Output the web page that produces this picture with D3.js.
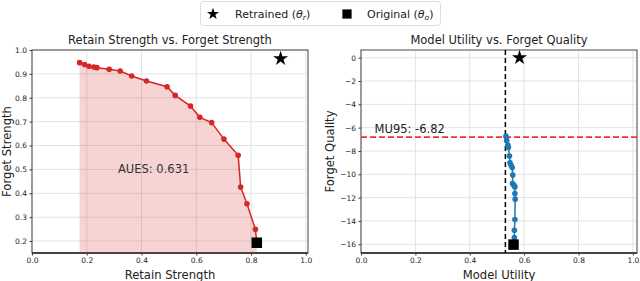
<!DOCTYPE html>
<html>
<head>
<meta charset="utf-8">
<script src="https://cdn.jsdelivr.net/npm/d3@7"></script>
<style>
  body { margin: 0; background: #fff; }
  svg { font-family: "DejaVu Sans", sans-serif; }
</style>
</head>
<body>
<div id="chart"></div>
<script>
// Left panel: retain strength vs forget strength
const retainStrength = [0.174, 0.192, 0.208, 0.226, 0.237, 0.282, 0.322, 0.364, 0.418, 0.493,
  0.523, 0.579, 0.613, 0.656, 0.701, 0.753, 0.762, 0.785, 0.816, 0.821];
const forgetStrength = [0.947, 0.939, 0.932, 0.929, 0.926, 0.919, 0.912, 0.891, 0.870, 0.846,
  0.810, 0.765, 0.718, 0.696, 0.627, 0.559, 0.426, 0.356, 0.249, 0.193];
const retrainedLeft = [0.908, 0.964];
const originalLeft = [0.821, 0.193];
const auesLabel = "AUES: 0.631";

// Right panel: model utility vs forget quality
const modelUtility = [0.533, 0.536, 0.540, 0.542, 0.546, 0.548, 0.552, 0.556, 0.558, 0.557,
  0.562, 0.566, 0.566, 0.567, 0.566, 0.564, 0.564, 0.561, 0.561];
const forgetQuality = [-6.73, -7.07, -7.50, -7.70, -8.44, -9.02, -9.22, -9.42, -10.07, -10.79,
  -10.93, -11.08, -11.65, -12.13, -13.88, -14.80, -15.43, -15.80, -16.03];
const retrainedRight = [0.583, 0.0];
const originalRight = [0.561, -16.03];
const muThresholdX = 0.531;
const mu95 = -6.82;

const leftXTicks = [0, 0.2, 0.4, 0.6, 0.8, 1.0];
const leftYTicks = [0.2, 0.3, 0.4, 0.5, 0.6, 0.7, 0.8, 0.9, 1.0];
const rightXTicks = [0, 0.2, 0.4, 0.6, 0.8, 1.0];
const rightYTicks = [0, -2, -4, -6, -8, -10, -12, -14, -16];

const width = 640, height = 281;
const svg = d3.select("#chart").append("svg")
  .attr("width", width).attr("height", height);

const red = "#d62728", blue = "#1f77b4";
const star = d3.symbol().type(d3.symbolStar).size(70);
const square = d3.symbol().type(d3.symbolSquare).size(110);

function panel(opts) {
  const x = d3.scaleLinear().domain(opts.xDomain).range([opts.left, opts.right]);
  const y = d3.scaleLinear().domain(opts.yDomain).range([opts.bottom, opts.top]);
  const g = svg.append("g");

  // grid
  g.selectAll(".gx").data(opts.xTicks).enter().append("line")
    .attr("x1", d => x(d)).attr("x2", d => x(d))
    .attr("y1", opts.top).attr("y2", opts.bottom)
    .attr("stroke", "#e3e3e3").attr("stroke-width", 1);
  g.selectAll(".gy").data(opts.yTicks).enter().append("line")
    .attr("x1", opts.left).attr("x2", opts.right)
    .attr("y1", d => y(d)).attr("y2", d => y(d))
    .attr("stroke", "#e3e3e3").attr("stroke-width", 1);

  // axes
  const xAxis = g.append("g").attr("transform", `translate(0,${opts.bottom})`)
    .call(d3.axisBottom(x).tickValues(opts.xTicks).tickFormat(d3.format(".1f")).tickSize(2.5).tickPadding(2.5));
  const yAxis = g.append("g").attr("transform", `translate(${opts.left},0)`)
    .call(d3.axisLeft(y).tickValues(opts.yTicks).tickFormat(opts.yFormat).tickSize(2.5).tickPadding(2.5));
  [xAxis, yAxis].forEach(a => {
    a.select(".domain").remove();
    a.selectAll("text").attr("font-size", 7.5).attr("fill", "#222")
      .attr("font-family", "DejaVu Sans");
    a.selectAll("line").attr("stroke", "#333");
  });

  g.append("rect")
    .attr("x", opts.left).attr("y", opts.top)
    .attr("width", opts.right - opts.left).attr("height", opts.bottom - opts.top)
    .attr("fill", "none").attr("stroke", "#444").attr("stroke-width", 1);
  g.append("line")
    .attr("x1", opts.left).attr("x2", opts.right)
    .attr("y1", opts.bottom).attr("y2", opts.bottom)
    .attr("stroke", "#444").attr("stroke-width", 2);

  // labels
  const cx = (opts.left + opts.right) / 2;
  g.append("text").attr("x", cx).attr("y", 44).attr("text-anchor", "middle")
    .attr("font-size", 11.5).attr("fill", "#222").text(opts.title);
  g.append("text").attr("x", cx).attr("y", 279).attr("text-anchor", "middle")
    .attr("font-size", 11.6).attr("fill", "#222").text(opts.xLabel);
  g.append("text")
    .attr("transform", `translate(${opts.yLabelX},${(opts.top + opts.bottom) / 2}) rotate(-90)`)
    .attr("text-anchor", "middle").attr("font-size", 11.6).attr("fill", "#222").text(opts.yLabel);

  return { x, y, g };
}

// ---- left
const L = panel({
  left: 32, right: 308, top: 50, bottom: 253,
  xDomain: [0, 1.008], yDomain: [0.15, 1.0],
  xTicks: leftXTicks, yTicks: leftYTicks, yFormat: d3.format(".1f"),
  title: "Retain Strength vs. Forget Strength",
  xLabel: "Retain Strength", yLabel: "Forget Strength", yLabelX: 11
});
const leftPts = retainStrength.map((d, i) => [d, forgetStrength[i]]);
L.g.append("path")
  .datum(leftPts)
  .attr("d", d3.area().x(d => L.x(d[0])).y0(L.y(0.15)).y1(d => L.y(d[1])))
  .attr("fill", red).attr("fill-opacity", 0.2);
L.g.append("path")
  .datum(leftPts)
  .attr("d", d3.line().x(d => L.x(d[0])).y(d => L.y(d[1])))
  .attr("fill", "none").attr("stroke", red).attr("stroke-width", 1.5);
L.g.selectAll(".pt").data(leftPts.slice(0, -1)).enter().append("circle")
  .attr("cx", d => L.x(d[0])).attr("cy", d => L.y(d[1])).attr("r", 2.8).attr("fill", red);
L.g.append("path").attr("d", square)
  .attr("transform", `translate(${L.x(originalLeft[0])},${L.y(originalLeft[1])})`).attr("fill", "#000");
L.g.append("path").attr("d", star)
  .attr("transform", `translate(${L.x(retrainedLeft[0])},${L.y(retrainedLeft[1])})`).attr("fill", "#000");
L.g.append("text").attr("x", L.x(0.314)).attr("y", L.y(0.503)).attr("dy", "0.35em")
  .attr("font-size", 11.5).attr("fill", "#333").text(auesLabel);

// ---- right
const R = panel({
  left: 361, right: 637, top: 50, bottom: 253,
  xDomain: [0, 1.015], yDomain: [-16.75, 0.66],
  xTicks: rightXTicks, yTicks: rightYTicks, yFormat: d => d3.format("d")(d).replace("-", "\u2212"),
  title: "Model Utility vs. Forget Quality",
  xLabel: "Model Utility", yLabel: "Forget Quality", yLabelX: 334
});
R.g.append("line")
  .attr("x1", R.x(muThresholdX)).attr("x2", R.x(muThresholdX))
  .attr("y1", 50).attr("y2", 253)
  .attr("stroke", "#000").attr("stroke-width", 1.5).attr("stroke-dasharray", "5,3");
R.g.append("line")
  .attr("x1", 361).attr("x2", 637)
  .attr("y1", R.y(mu95)).attr("y2", R.y(mu95))
  .attr("stroke", "#ee3333").attr("stroke-width", 1.8).attr("stroke-dasharray", "6,3");
R.g.append("text").attr("x", R.x(0.05)).attr("y", R.y(mu95) - 4)
  .attr("font-size", 11.5).attr("fill", "#222").text("MU95: " + mu95.toFixed(2));
const rightPts = modelUtility.map((d, i) => [d, forgetQuality[i]]);
R.g.append("path")
  .datum(rightPts)
  .attr("d", d3.line().x(d => R.x(d[0])).y(d => R.y(d[1])))
  .attr("fill", "none").attr("stroke", blue).attr("stroke-width", 1.5);
R.g.selectAll(".pt").data(rightPts).enter().append("circle")
  .attr("cx", d => R.x(d[0])).attr("cy", d => R.y(d[1])).attr("r", 2.8).attr("fill", blue);
R.g.append("path").attr("d", square)
  .attr("transform", `translate(${R.x(originalRight[0])},${R.y(originalRight[1])})`).attr("fill", "#000");
R.g.append("path").attr("d", star)
  .attr("transform", `translate(${R.x(retrainedRight[0])},${R.y(retrainedRight[1])})`).attr("fill", "#000");

// ---- legend
const legendStar = d3.symbol().type(d3.symbolStar).size(45);
const legendSquare = d3.symbol().type(d3.symbolSquare).size(85);
const lg = svg.append("g");
lg.append("rect").attr("x", 200.5).attr("y", 1.5).attr("width", 240).attr("height", 24)
  .attr("rx", 3).attr("fill", "#fff").attr("stroke", "#ddd");
lg.append("path").attr("d", legendStar).attr("transform", "translate(213,14)").attr("fill", "#000");
lg.append("text").attr("x", 235).attr("y", 18).attr("font-size", 11).attr("fill", "#222")
  .html('Retrained (<tspan font-style="italic">θ</tspan><tspan font-style="italic" font-size="7.5" dy="2">r</tspan><tspan dy="-2">)</tspan>');
lg.append("path").attr("d", legendSquare).attr("transform", "translate(347,14)").attr("fill", "#000");
lg.append("text").attr("x", 367).attr("y", 18).attr("font-size", 11).attr("fill", "#222")
  .html('Original (<tspan font-style="italic">θ</tspan><tspan font-style="italic" font-size="7.5" dy="2">o</tspan><tspan dy="-2">)</tspan>');
</script>
</body>
</html>
